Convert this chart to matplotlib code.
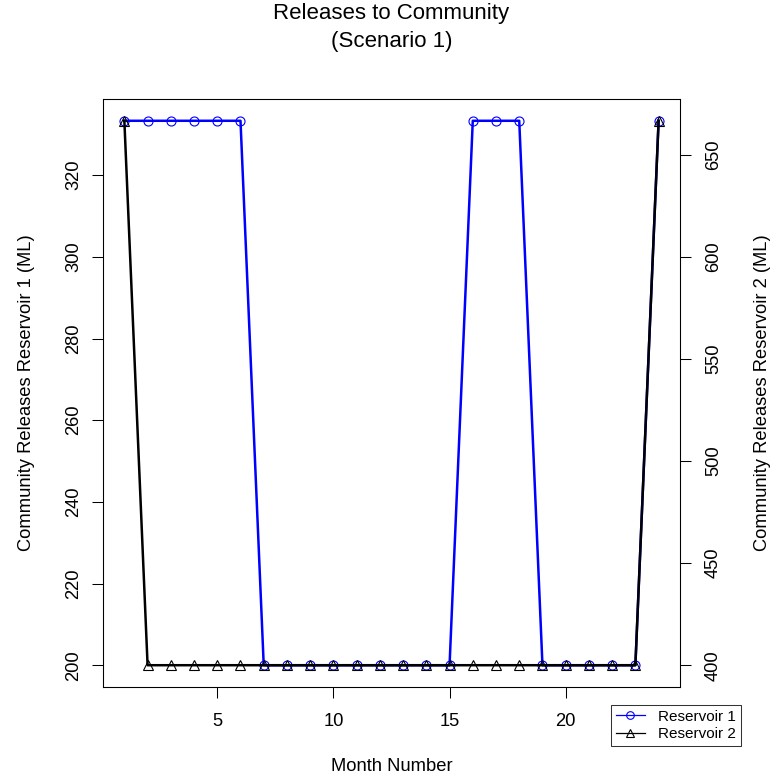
import matplotlib.pyplot as plt
from matplotlib.lines import Line2D

plt.rcParams['font.family'] = ['Liberation Sans', 'DejaVu Sans']

months = list(range(1, 25))
res1 = [333.33] * 6 + [200] * 9 + [333.33] * 3 + [200] * 5 + [333.33]
res2 = [666.67] + [400] * 22 + [666.67]

fs = 13.2

fig = plt.figure(figsize=(7.72, 7.83), dpi=100)
ax = fig.add_axes([0.1334, 0.1226, 0.7474, 0.751])

ax.plot(months, res1, color='blue', lw=1.8, marker='o', ms=6.5,
        mfc='none', mec='blue', mew=0.8)
ax.set_xlim(0.08, 24.92)
ax.set_ylim(194.67, 338.67)
ax.set_xticks([5, 10, 15, 20])
ax.set_yticks([200, 220, 240, 260, 280, 300, 320])
ax.tick_params(axis='x', labelsize=fs, length=8, width=0.75, pad=11)
ax.tick_params(axis='y', labelsize=fs, length=8, width=0.75, pad=7)
for lab in ax.get_yticklabels():
    lab.set_rotation(90)
    lab.set_va('center')
ax.set_ylabel('Community Releases Reservoir 1 (ML)', fontsize=fs, va='center')
ax.yaxis.set_label_coords(-0.133, 0.5)
ax.set_xlabel('Month Number', fontsize=fs, va='center')
ax.xaxis.set_label_coords(0.5, -0.136)

ax2 = ax.twinx()
ax2.plot(months, res2, color='black', lw=1.8, marker='^', ms=6.5,
         mfc='none', mec='black', mew=0.8)
ax2.set_ylim(389.33, 677.33)
ax2.set_yticks([400, 450, 500, 550, 600, 650])
ax2.tick_params(axis='y', labelsize=fs, length=8, width=0.75, pad=10)
for lab in ax2.get_yticklabels():
    lab.set_rotation(90)
    lab.set_va('center')
ax2.set_ylabel('Community Releases Reservoir 2 (ML)', fontsize=fs, va='center')
ax2.yaxis.set_label_coords(1.143, 0.5)
ax2.set_xlim(0.08, 24.92)

for a in (ax, ax2):
    for s in a.spines.values():
        s.set_linewidth(0.75)

fig.text(0.507, 1 - 14 / 783, 'Releases to Community', ha='center', va='center', fontsize=16)
fig.text(0.507, 1 - 42 / 783, '(Scenario 1)', ha='center', va='center', fontsize=16)

handles = [
    Line2D([], [], color='blue', lw=0.9, marker='o', ms=5.5, mfc='none', mew=0.8),
    Line2D([], [], color='black', lw=0.9, marker='^', ms=5.5, mfc='none', mew=0.8),
]
leg = fig.legend(handles, ['Reservoir 1', 'Reservoir 2'], loc='upper left',
                 bbox_to_anchor=(611 / 772, 1 - 705 / 783), fontsize=11,
                 frameon=True, fancybox=False, edgecolor='black',
                 borderpad=0.3, labelspacing=0.25, handlelength=1.9,
                 handletextpad=0.9, borderaxespad=0)
leg.get_frame().set_linewidth(0.75)

fig.savefig('out.png', dpi=100)
